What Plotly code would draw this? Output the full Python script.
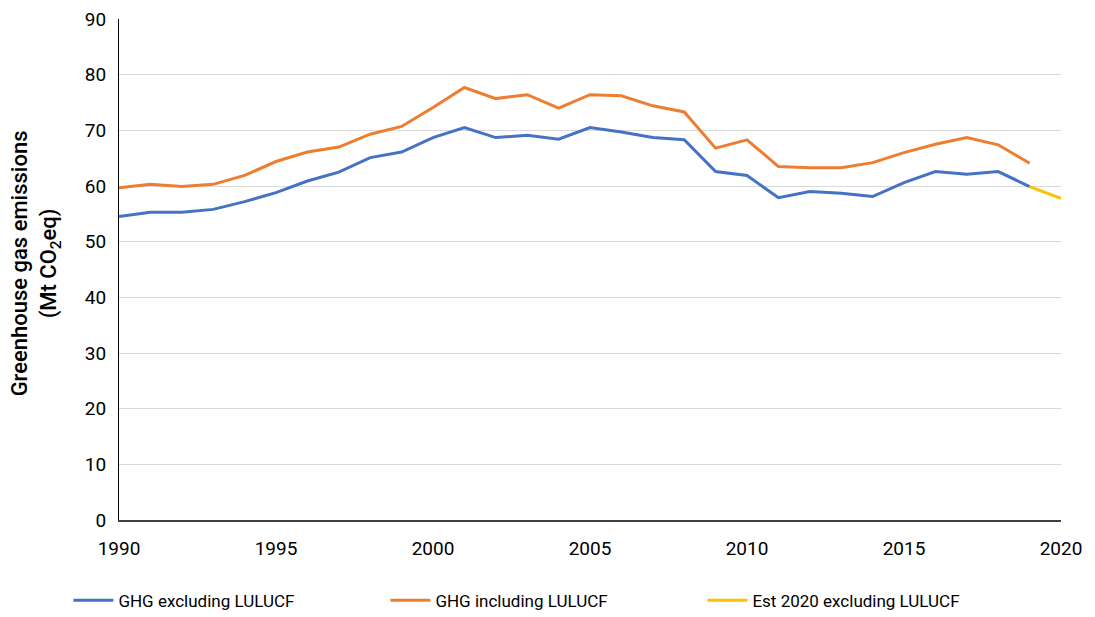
import plotly.graph_objects as go

years = list(range(1990, 2020))
ghg_excl = [54.5, 55.3, 55.3, 55.8, 57.2, 58.8, 60.9, 62.5, 65.1, 66.1,
            68.7, 70.5, 68.7, 69.1, 68.4, 70.5, 69.7, 68.7, 68.3, 62.6,
            61.9, 57.9, 59.0, 58.7, 58.1, 60.6, 62.6, 62.1, 62.6, 59.9]
ghg_incl = [59.7, 60.3, 59.9, 60.3, 61.9, 64.4, 66.1, 67.0, 69.3, 70.7,
            74.1, 77.7, 75.7, 76.4, 74.0, 76.4, 76.2, 74.4, 73.3, 66.8,
            68.3, 63.5, 63.3, 63.3, 64.2, 66.0, 67.5, 68.7, 67.4, 64.1]
est_years = [2019, 2020]
est_excl = [59.9, 57.8]

font_family = "Roboto, 'DejaVu Sans', sans-serif"

fig = go.Figure()
fig.add_trace(go.Scatter(x=years, y=ghg_excl, mode="lines", name="GHG excluding LULUCF",
                         line=dict(color="#4472C4", width=3)))
fig.add_trace(go.Scatter(x=years, y=ghg_incl, mode="lines", name="GHG including LULUCF",
                         line=dict(color="#ED7D31", width=3)))
fig.add_trace(go.Scatter(x=est_years, y=est_excl, mode="lines", name="Est 2020 excluding LULUCF",
                         line=dict(color="#FFC000", width=3)))

fig.update_layout(
    width=1087, height=609,
    margin=dict(l=111, r=34, t=11, b=97, autoexpand=False),
    paper_bgcolor="white", plot_bgcolor="white",
    font=dict(family=font_family, size=19, color="#000000"),
    xaxis=dict(range=[1990, 2020], tickmode="linear", tick0=1990, dtick=5,
               showgrid=False, showline=True, linecolor="#404040", linewidth=1.5,
               ticks="", zeroline=False, tickfont=dict(size=19), automargin=False,
               ticklabelstandoff=10, ticklabeloverflow="allow"),
    yaxis=dict(range=[0, 90], tickmode="linear", tick0=0, dtick=10,
               showgrid=True, gridcolor="#d9d9d9", gridwidth=1,
               showline=True, linecolor="#000000", linewidth=1,
               ticks="", zeroline=False, tickfont=dict(size=19), automargin=False,
               ticklabelstandoff=8, ticklabeloverflow="allow"),
    legend=dict(orientation="h", x=-0.0537, xanchor="left", y=-0.125, yanchor="top",
                entrywidth=262, entrywidthmode="pixels",
                font=dict(size=17), itemwidth=40),
    annotations=[dict(text="Greenhouse gas emissions<br>(Mt CO<sub>2</sub>eq)",
                      xref="paper", yref="paper", x=-0.0877, y=0.513,
                      xanchor="center", yanchor="middle", textangle=-90,
                      showarrow=False, font=dict(size=22, weight=500))],
    showlegend=True,
)

fig.write_html("out.html")
